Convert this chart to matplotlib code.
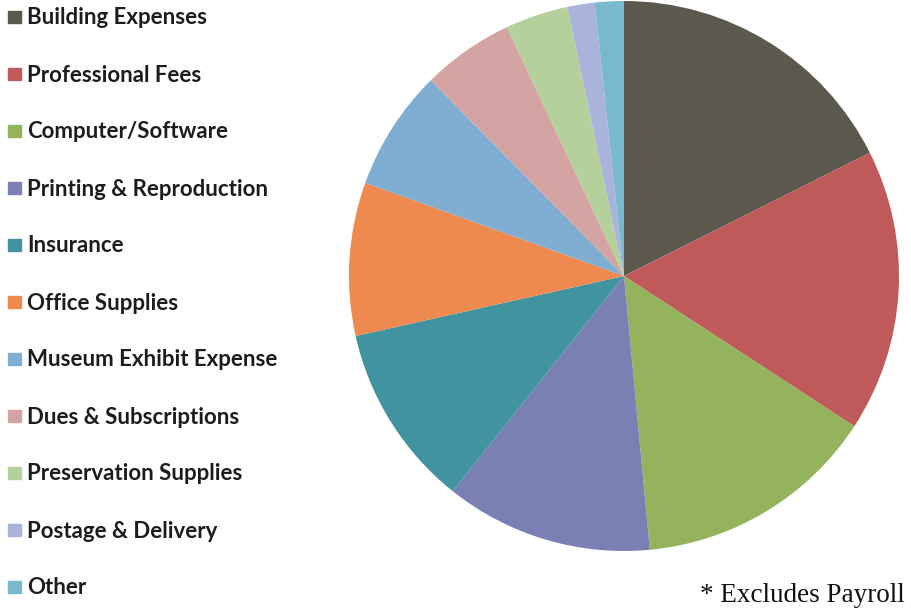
import matplotlib
matplotlib.use("Agg")
import matplotlib.pyplot as plt
from matplotlib.patches import Rectangle

# expense categories, share of non-payroll spending (%)
categories = [
    "Building Expenses", "Professional Fees", "Computer/Software",
    "Printing & Reproduction", "Insurance", "Office Supplies",
    "Museum Exhibit Expense", "Dues & Subscriptions",
    "Preservation Supplies", "Postage & Delivery", "Other",
]
shares = [17.6, 16.6, 14.3, 12.2, 10.8, 9.0, 7.1, 5.4, 3.7, 1.6, 1.7]
colors = [
    "#5b594e", "#c0595a", "#93b45c", "#7b80b4", "#40939f", "#ee8a4f",
    "#80aed2", "#d3a4a2", "#b4d09b", "#a9b3dc", "#78b9d0",
]

W, H = 912, 612
fig = plt.figure(figsize=(W / 100, H / 100), dpi=100)

# pie sits on the right, clockwise from 12 o'clock
cx, cy, r = 624, 276, 275
ax = fig.add_axes([(cx - r) / W, (H - cy - r) / H, 2 * r / W, 2 * r / H])
ax.pie(shares, colors=colors, startangle=90, counterclock=False,
       radius=1.0, wedgeprops={"linewidth": 0})
ax.set_xlim(-1, 1)
ax.set_ylim(-1, 1)
ax.set_aspect("equal")
ax.axis("off")

# hand-built legend down the left side
y0, step = 17, 57
for i, (lab, col) in enumerate(zip(categories, colors)):
    yc = y0 + i * step
    fig.patches.append(Rectangle((8 / W, 1 - (yc + 6) / H), 13 / W, 12 / H,
                                 transform=fig.transFigure, color=col))
    fig.text(27 / W, 1 - (yc + 1) / H, lab, fontsize=16, fontweight="bold",
             family="Lato", color="#1c1c1c", va="center", ha="left")

fig.text(905 / W, 1 - 596 / H, "* Excludes Payroll", fontsize=19.5,
         family="Liberation Serif", color="#111111", va="center", ha="right")

fig.savefig("out.png", dpi=100)
